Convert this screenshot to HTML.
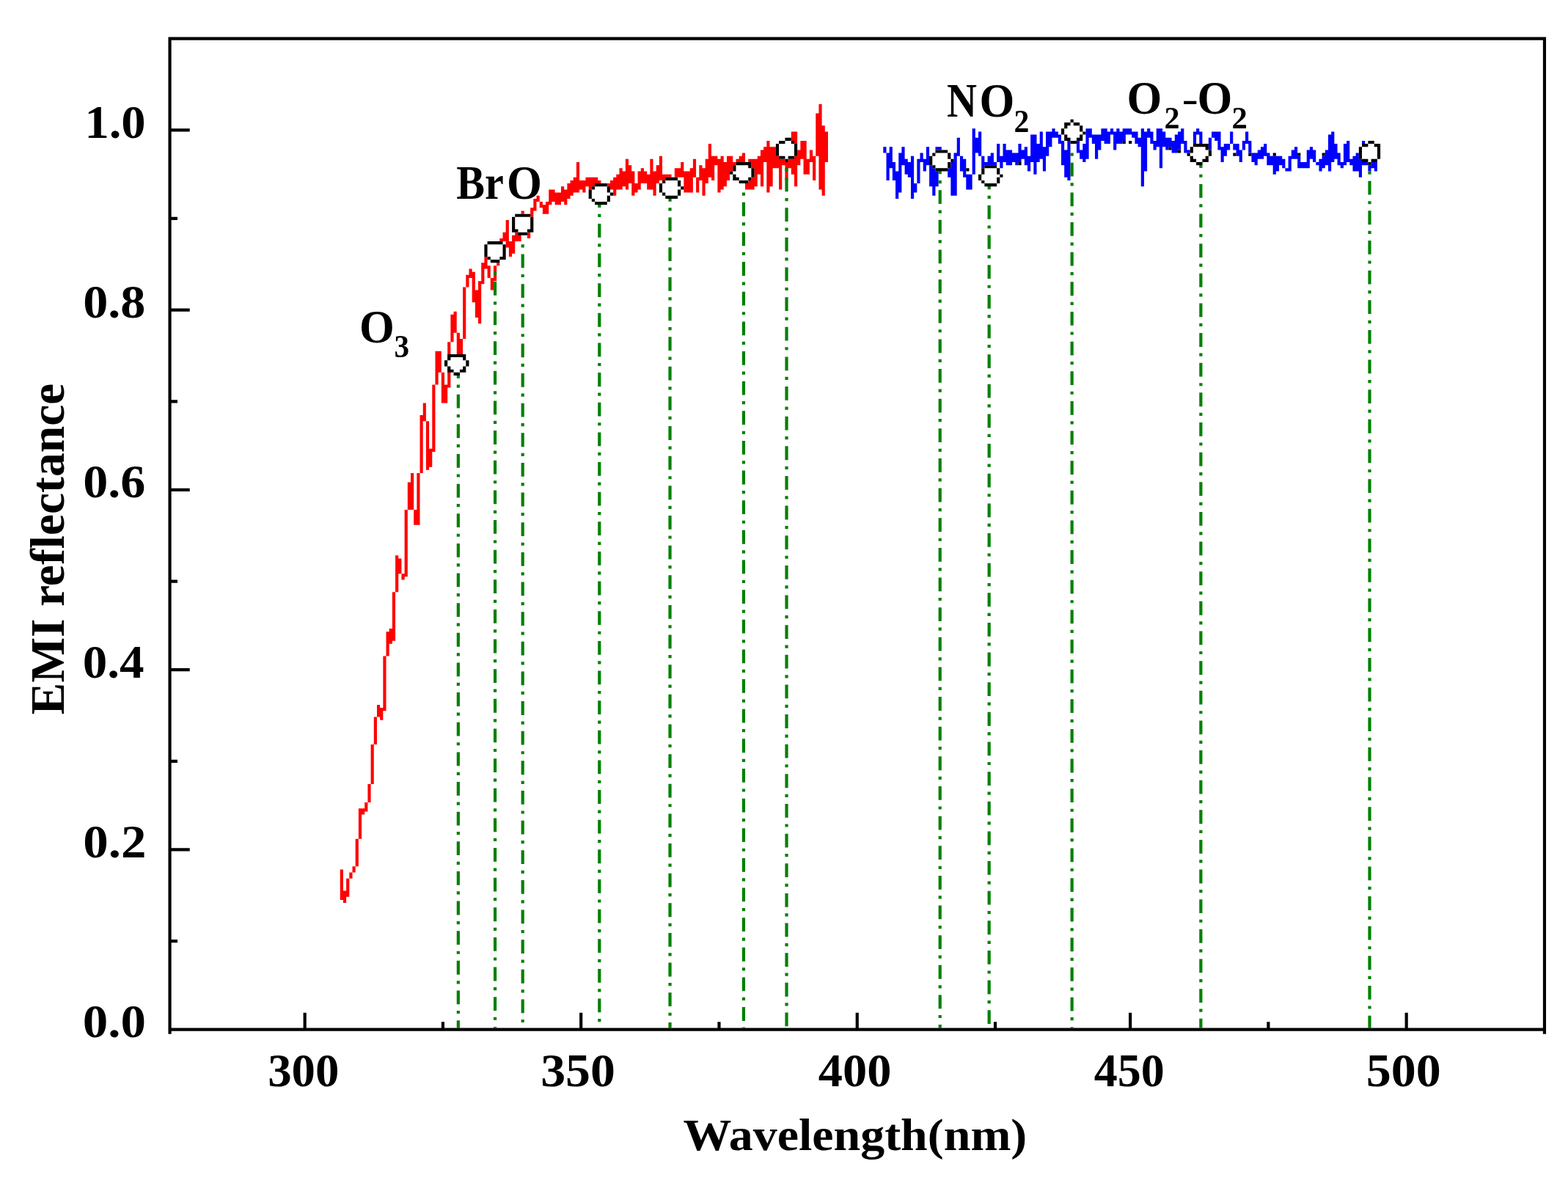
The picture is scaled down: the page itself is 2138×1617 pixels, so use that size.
<!DOCTYPE html>
<html lang="en">
<head>
<meta charset="utf-8">
<title>EMI reflectance vs wavelength</title>
<style>
html,body{margin:0;padding:0;background:#fff;}
body{width:2138px;height:1617px;overflow:hidden;}
svg{display:block;}
</style>
</head>
<body>
<svg width="2138" height="1617" viewBox="0 0 2138 1617" shape-rendering="auto">
<rect width="2138" height="1617" fill="#fff"/>
<path d="M463.75 1185.40h4.18v41.57h-4.18zM467.94 1214.49h4.18v16.63h-4.18zM472.12 1197.87h4.18v24.94h-4.18zM476.31 1189.55h4.18v8.31h-4.18zM480.49 1181.24h4.18v8.31h-4.18zM484.67 1143.83h4.18v37.41h-4.18zM488.86 1102.26h4.18v41.57h-4.18zM493.04 1102.26h4.18v8.31h-4.18zM497.23 1093.95h4.18v12.47h-4.18zM501.41 1069.01h4.18v24.94h-4.18zM505.59 1014.97h4.18v54.04h-4.18zM509.78 977.56h4.18v37.41h-4.18zM513.96 960.93h4.18v16.63h-4.18zM518.15 965.09h4.18v16.63h-4.18zM522.33 894.42h4.18v4.16h-4.18zM522.33 894.42h4.18v74.82h-4.18zM526.51 861.17h4.18v33.25h-4.18zM526.51 881.95h4.18v12.47h-4.18zM530.70 857.01h4.18v20.78h-4.18zM534.88 807.13h4.18v66.51h-4.18zM539.07 757.25h4.18v49.88h-4.18zM543.25 761.40h4.18v20.78h-4.18zM547.43 782.19h4.18v8.31h-4.18zM551.62 694.89h4.18v91.45h-4.18zM555.80 657.48h4.18v37.41h-4.18zM559.99 645.01h4.18v49.88h-4.18zM564.17 694.89h4.18v20.78h-4.18zM568.35 645.01h4.18v70.67h-4.18zM572.54 566.03h4.18v78.98h-4.18zM576.72 549.41h4.18v24.94h-4.18zM580.91 574.35h4.18v66.51h-4.18zM585.09 611.76h4.18v24.94h-4.18zM589.27 524.47h4.18v54.04h-4.18zM589.27 524.47h4.18v91.45h-4.18zM593.46 478.74h4.18v45.72h-4.18zM593.46 520.31h4.18v4.16h-4.18zM597.64 478.74h4.18v29.10h-4.18zM601.83 507.84h4.18v41.57h-4.18zM601.83 520.31h4.18v29.10h-4.18zM606.01 524.47h4.18v24.94h-4.18zM610.19 466.27h4.18v62.35h-4.18zM610.19 520.31h4.18v8.31h-4.18zM614.38 428.86h4.18v37.41h-4.18zM618.56 424.70h4.18v29.10h-4.18zM622.75 453.80h4.18v29.10h-4.18zM626.93 462.11h4.18v20.78h-4.18zM631.11 391.45h4.18v70.67h-4.18zM635.30 374.82h4.18v16.63h-4.18zM639.48 366.51h4.18v12.47h-4.18zM643.67 370.66h4.18v41.57h-4.18zM647.85 395.60h4.18v37.41h-4.18zM652.03 383.13h4.18v58.20h-4.18zM656.22 358.19h4.18v29.10h-4.18zM660.40 349.88h4.18v16.63h-4.18zM664.59 362.35h4.18v16.63h-4.18zM668.77 378.98h4.18v16.63h-4.18zM672.95 362.35h4.18v20.78h-4.18zM677.14 358.19h4.18v4.16h-4.18zM681.32 324.94h4.18v4.16h-4.18zM685.51 316.63h4.18v12.47h-4.18zM689.69 300.00h4.18v37.41h-4.18zM693.87 329.10h4.18v20.78h-4.18zM698.06 320.78h4.18v24.94h-4.18zM702.24 316.63h4.18v12.47h-4.18zM706.43 316.63h4.18v12.47h-4.18zM710.61 287.53h4.18v4.16h-4.18zM718.98 316.63h4.18v8.31h-4.18zM723.16 283.37h4.18v12.47h-4.18zM727.35 270.90h4.18v16.63h-4.18zM731.53 266.74h4.18v8.31h-4.18zM735.71 275.06h4.18v8.31h-4.18zM739.90 279.21h4.18v12.47h-4.18zM744.08 275.06h4.18v16.63h-4.18zM748.27 258.43h4.18v20.78h-4.18zM752.45 258.43h4.18v16.63h-4.18zM756.63 262.59h4.18v16.63h-4.18zM760.82 262.59h4.18v16.63h-4.18zM765.00 254.27h4.18v20.78h-4.18zM769.19 258.43h4.18v20.78h-4.18zM773.37 250.12h4.18v20.78h-4.18zM777.55 245.96h4.18v20.78h-4.18zM781.74 241.80h4.18v20.78h-4.18zM785.92 221.02h4.18v41.57h-4.18zM790.11 245.96h4.18v12.47h-4.18zM794.29 245.96h4.18v16.63h-4.18zM798.47 241.80h4.18v12.47h-4.18zM802.66 241.80h4.18v16.63h-4.18zM806.84 241.80h4.18v12.47h-4.18zM811.03 241.80h4.18v8.31h-4.18zM815.21 245.96h4.18v4.16h-4.18zM827.76 250.12h4.18v4.16h-4.18zM831.95 245.96h4.18v12.47h-4.18zM836.13 241.80h4.18v24.94h-4.18zM840.31 237.65h4.18v20.78h-4.18zM844.50 229.33h4.18v29.10h-4.18zM848.68 233.49h4.18v20.78h-4.18zM852.87 216.86h4.18v41.57h-4.18zM857.05 225.18h4.18v24.94h-4.18zM861.23 233.49h4.18v33.25h-4.18zM865.42 250.12h4.18v12.47h-4.18zM869.60 233.49h4.18v24.94h-4.18zM873.79 229.33h4.18v20.78h-4.18zM877.97 233.49h4.18v16.63h-4.18zM882.15 237.65h4.18v20.78h-4.18zM886.34 216.86h4.18v41.57h-4.18zM890.52 233.49h4.18v33.25h-4.18zM894.71 225.18h4.18v24.94h-4.18zM898.89 212.71h4.18v33.25h-4.18zM903.07 237.65h4.18v8.31h-4.18zM907.26 237.65h4.18v4.16h-4.18zM911.44 237.65h4.18v4.16h-4.18zM919.81 229.33h4.18v12.47h-4.18zM923.99 229.33h4.18v12.47h-4.18zM928.18 221.02h4.18v20.78h-4.18zM932.36 233.49h4.18v29.10h-4.18zM936.55 233.49h4.18v29.10h-4.18zM940.73 229.33h4.18v33.25h-4.18zM944.91 216.86h4.18v24.94h-4.18zM949.10 241.80h4.18v20.78h-4.18zM953.28 225.18h4.18v20.78h-4.18zM957.47 229.33h4.18v37.41h-4.18zM961.65 216.86h4.18v33.25h-4.18zM965.83 196.08h4.18v45.72h-4.18zM970.02 212.71h4.18v33.25h-4.18zM974.20 212.71h4.18v12.47h-4.18zM978.39 216.86h4.18v45.72h-4.18zM982.57 212.71h4.18v45.72h-4.18zM986.75 221.02h4.18v33.25h-4.18zM990.94 212.71h4.18v33.25h-4.18zM995.12 212.71h4.18v20.78h-4.18zM999.31 221.02h4.18v4.16h-4.18zM1003.49 216.86h4.18v4.16h-4.18zM1007.67 212.71h4.18v8.31h-4.18zM1011.86 208.55h4.18v12.47h-4.18zM1016.04 250.12h4.18v8.31h-4.18zM1020.23 216.86h4.18v4.16h-4.18zM1020.23 245.96h4.18v12.47h-4.18zM1024.41 216.86h4.18v12.47h-4.18zM1024.41 241.80h4.18v16.63h-4.18zM1028.59 216.86h4.18v37.41h-4.18zM1032.78 212.71h4.18v24.94h-4.18zM1036.96 204.39h4.18v49.88h-4.18zM1041.15 200.23h4.18v20.78h-4.18zM1045.33 191.92h4.18v70.67h-4.18zM1049.51 200.23h4.18v54.04h-4.18zM1053.70 200.23h4.18v29.10h-4.18zM1057.88 212.71h4.18v16.63h-4.18zM1062.07 216.86h4.18v41.57h-4.18zM1066.25 216.86h4.18v8.31h-4.18zM1070.43 221.02h4.18v24.94h-4.18zM1074.62 216.86h4.18v12.47h-4.18zM1078.80 179.45h4.18v12.47h-4.18zM1078.80 216.86h4.18v20.78h-4.18zM1082.99 179.45h4.18v16.63h-4.18zM1082.99 212.71h4.18v41.57h-4.18zM1087.17 204.39h4.18v20.78h-4.18zM1091.35 191.92h4.18v24.94h-4.18zM1095.54 191.92h4.18v45.72h-4.18zM1099.72 216.86h4.18v20.78h-4.18zM1103.91 204.39h4.18v16.63h-4.18zM1108.09 212.71h4.18v33.25h-4.18zM1112.27 154.51h4.18v58.20h-4.18zM1116.46 142.04h4.18v116.39h-4.18zM1120.64 171.14h4.18v95.61h-4.18zM1124.83 179.45h4.18v41.57h-4.18z" fill="#ff0000"/>
<path d="M1204.32 200.23h4.18v8.31h-4.18zM1208.51 208.55h4.18v37.41h-4.18zM1212.69 200.23h4.18v29.10h-4.18zM1216.87 221.02h4.18v24.94h-4.18zM1221.06 233.49h4.18v37.41h-4.18zM1225.24 208.55h4.18v54.04h-4.18zM1229.43 200.23h4.18v24.94h-4.18zM1233.61 216.86h4.18v20.78h-4.18zM1237.79 221.02h4.18v20.78h-4.18zM1241.98 212.71h4.18v58.20h-4.18zM1246.16 250.12h4.18v12.47h-4.18zM1250.35 216.86h4.18v33.25h-4.18zM1254.53 208.55h4.18v12.47h-4.18zM1258.71 216.86h4.18v16.63h-4.18zM1262.90 200.23h4.18v24.94h-4.18zM1267.08 225.18h4.18v29.10h-4.18zM1271.27 229.33h4.18v37.41h-4.18zM1275.45 200.23h4.18v4.16h-4.18zM1275.45 233.49h4.18v20.78h-4.18zM1279.63 200.23h4.18v4.16h-4.18zM1292.19 229.33h4.18v12.47h-4.18zM1296.37 221.02h4.18v45.72h-4.18zM1300.55 208.55h4.18v58.20h-4.18zM1304.74 187.76h4.18v24.94h-4.18zM1308.92 212.71h4.18v20.78h-4.18zM1313.11 216.86h4.18v24.94h-4.18zM1317.29 237.65h4.18v20.78h-4.18zM1321.47 237.65h4.18v20.78h-4.18zM1325.66 175.29h4.18v62.35h-4.18zM1329.84 187.76h4.18v20.78h-4.18zM1334.03 179.45h4.18v33.25h-4.18zM1338.21 212.71h4.18v16.63h-4.18zM1342.39 221.02h4.18v4.16h-4.18zM1346.58 212.71h4.18v12.47h-4.18zM1350.76 208.55h4.18v16.63h-4.18zM1354.95 221.02h4.18v4.16h-4.18zM1359.13 196.08h4.18v24.94h-4.18zM1363.31 212.71h4.18v16.63h-4.18zM1367.50 196.08h4.18v24.94h-4.18zM1371.68 204.39h4.18v20.78h-4.18zM1375.87 204.39h4.18v20.78h-4.18zM1380.05 208.55h4.18v12.47h-4.18zM1384.23 208.55h4.18v16.63h-4.18zM1388.42 196.08h4.18v24.94h-4.18zM1392.60 204.39h4.18v12.47h-4.18zM1396.79 200.23h4.18v24.94h-4.18zM1400.97 212.71h4.18v20.78h-4.18zM1405.15 183.61h4.18v37.41h-4.18zM1409.34 183.61h4.18v54.04h-4.18zM1413.52 196.08h4.18v24.94h-4.18zM1417.71 179.45h4.18v37.41h-4.18zM1421.89 200.23h4.18v33.25h-4.18zM1426.07 179.45h4.18v33.25h-4.18zM1430.26 179.45h4.18v20.78h-4.18zM1434.44 175.29h4.18v12.47h-4.18zM1438.63 179.45h4.18v8.31h-4.18zM1442.81 183.61h4.18v12.47h-4.18zM1446.99 191.92h4.18v33.25h-4.18zM1451.18 204.39h4.18v37.41h-4.18zM1455.36 191.92h4.18v54.04h-4.18zM1467.91 191.92h4.18v16.63h-4.18zM1472.10 204.39h4.18v12.47h-4.18zM1476.28 196.08h4.18v24.94h-4.18zM1480.47 175.29h4.18v41.57h-4.18zM1484.65 175.29h4.18v12.47h-4.18zM1488.83 183.61h4.18v12.47h-4.18zM1493.02 183.61h4.18v33.25h-4.18zM1497.20 183.61h4.18v20.78h-4.18zM1501.39 175.29h4.18v16.63h-4.18zM1505.57 175.29h4.18v20.78h-4.18zM1509.75 179.45h4.18v16.63h-4.18zM1513.94 175.29h4.18v8.31h-4.18zM1518.12 179.45h4.18v24.94h-4.18zM1522.31 175.29h4.18v20.78h-4.18zM1526.49 179.45h4.18v16.63h-4.18zM1530.67 175.29h4.18v16.63h-4.18zM1534.86 175.29h4.18v8.31h-4.18zM1539.04 175.29h4.18v8.31h-4.18zM1543.23 179.45h4.18v8.31h-4.18zM1547.41 179.45h4.18v16.63h-4.18zM1551.59 187.76h4.18v12.47h-4.18zM1555.78 175.29h4.18v78.98h-4.18zM1559.96 179.45h4.18v54.04h-4.18zM1564.15 175.29h4.18v12.47h-4.18zM1568.33 179.45h4.18v16.63h-4.18zM1572.51 191.92h4.18v12.47h-4.18zM1576.70 175.29h4.18v24.94h-4.18zM1580.88 175.29h4.18v54.04h-4.18zM1585.07 179.45h4.18v20.78h-4.18zM1589.25 187.76h4.18v16.63h-4.18zM1593.43 187.76h4.18v12.47h-4.18zM1597.62 191.92h4.18v16.63h-4.18zM1601.80 183.61h4.18v24.94h-4.18zM1605.99 179.45h4.18v24.94h-4.18zM1610.17 175.29h4.18v20.78h-4.18zM1614.35 191.92h4.18v16.63h-4.18zM1618.54 204.39h4.18v4.16h-4.18zM1626.91 179.45h4.18v16.63h-4.18zM1631.09 175.29h4.18v8.31h-4.18zM1635.27 179.45h4.18v16.63h-4.18zM1647.83 187.76h4.18v16.63h-4.18zM1652.01 179.45h4.18v8.31h-4.18zM1656.19 179.45h4.18v12.47h-4.18zM1660.38 179.45h4.18v24.94h-4.18zM1664.56 200.23h4.18v20.78h-4.18zM1668.75 196.08h4.18v16.63h-4.18zM1672.93 196.08h4.18v8.31h-4.18zM1677.11 179.45h4.18v16.63h-4.18zM1681.30 196.08h4.18v8.31h-4.18zM1685.48 196.08h4.18v16.63h-4.18zM1689.67 204.39h4.18v16.63h-4.18zM1693.85 191.92h4.18v12.47h-4.18zM1698.03 179.45h4.18v16.63h-4.18zM1702.22 191.92h4.18v16.63h-4.18zM1706.40 208.55h4.18v12.47h-4.18zM1710.59 208.55h4.18v16.63h-4.18zM1714.77 204.39h4.18v12.47h-4.18zM1718.95 200.23h4.18v16.63h-4.18zM1723.14 196.08h4.18v16.63h-4.18zM1727.32 208.55h4.18v16.63h-4.18zM1731.51 212.71h4.18v12.47h-4.18zM1735.69 212.71h4.18v24.94h-4.18zM1739.87 212.71h4.18v20.78h-4.18zM1744.06 212.71h4.18v12.47h-4.18zM1748.24 216.86h4.18v12.47h-4.18zM1752.43 229.33h4.18v4.16h-4.18zM1756.61 212.71h4.18v20.78h-4.18zM1760.79 204.39h4.18v12.47h-4.18zM1764.98 200.23h4.18v16.63h-4.18zM1769.16 212.71h4.18v16.63h-4.18zM1773.35 221.02h4.18v8.31h-4.18zM1777.53 221.02h4.18v8.31h-4.18zM1781.71 204.39h4.18v24.94h-4.18zM1785.90 200.23h4.18v16.63h-4.18zM1790.08 204.39h4.18v16.63h-4.18zM1794.27 221.02h4.18v4.16h-4.18zM1798.45 216.86h4.18v16.63h-4.18zM1802.63 212.71h4.18v16.63h-4.18zM1806.82 204.39h4.18v20.78h-4.18zM1811.00 183.61h4.18v49.88h-4.18zM1815.19 179.45h4.18v41.57h-4.18zM1819.37 196.08h4.18v20.78h-4.18zM1823.55 208.55h4.18v16.63h-4.18zM1827.74 221.02h4.18v8.31h-4.18zM1831.92 196.08h4.18v29.10h-4.18zM1836.11 191.92h4.18v29.10h-4.18zM1840.29 216.86h4.18v8.31h-4.18zM1844.47 212.71h4.18v20.78h-4.18zM1848.66 208.55h4.18v24.94h-4.18zM1852.84 216.86h4.18v24.94h-4.18zM1857.03 191.92h4.18v4.16h-4.18zM1857.03 221.02h4.18v4.16h-4.18zM1861.21 221.02h4.18v4.16h-4.18zM1865.39 225.18h4.18v8.31h-4.18zM1869.58 221.02h4.18v8.31h-4.18zM1873.76 221.02h4.18v12.47h-4.18z" fill="#0000ff"/>
<g stroke="#008000" stroke-width="4.2" stroke-dasharray="18.8 8.6 4.2 9.04" fill="none"><line x1="624.84" y1="497.07" x2="624.84" y2="1401.55"/><line x1="675.05" y1="362.06" x2="675.05" y2="1401.55" stroke-dashoffset="18.8"/><line x1="712.70" y1="324.65" x2="712.70" y2="1401.55" stroke-dashoffset="18.8"/><line x1="817.30" y1="264.28" x2="817.30" y2="1401.55"/><line x1="913.53" y1="255.97" x2="913.53" y2="1401.55"/><line x1="1013.95" y1="253.99" x2="1013.95" y2="1401.55" stroke-dashoffset="18.8"/><line x1="1072.53" y1="220.73" x2="1072.53" y2="1401.55" stroke-dashoffset="18.8"/><line x1="1281.73" y1="218.56" x2="1281.73" y2="1401.55"/><line x1="1348.67" y1="239.34" x2="1348.67" y2="1401.55"/><line x1="1461.64" y1="199.95" x2="1461.64" y2="1401.55" stroke-dashoffset="18.8"/><line x1="1637.37" y1="210.25" x2="1637.37" y2="1401.55"/><line x1="1867.49" y1="224.89" x2="1867.49" y2="1401.55" stroke-dashoffset="18.8"/></g>
<path d="M1317.29 229.33h4.18v4.16h-4.18zM1388.42 221.02h4.18v4.16h-4.18zM1530.67 191.92h4.18v4.16h-4.18zM1539.04 191.92h4.18v4.16h-4.18zM1593.43 200.23h4.18v4.16h-4.18zM1605.99 204.39h4.18v4.16h-4.18zM1681.30 208.55h4.18v4.16h-4.18zM1702.22 208.55h4.18v4.16h-4.18zM1735.69 208.55h4.18v4.16h-4.18zM1769.16 208.55h4.18v4.16h-4.18zM1802.63 208.55h4.18v4.16h-4.18z" fill="#000"/>
<path d="M613.88 486.55h17.74v5.16h-17.74zM609.69 490.71h26.10v5.16h-26.10zM609.69 494.87h26.10v5.16h-26.10zM613.88 499.02h17.74v5.16h-17.74zM618.06 503.18h9.37v5.16h-9.37zM664.09 332.75h21.92v5.16h-21.92zM664.09 336.91h21.92v5.16h-21.92zM664.09 341.07h21.92v5.16h-21.92zM664.09 345.22h21.92v5.16h-21.92zM668.27 349.38h13.55v5.16h-13.55zM701.74 295.34h21.92v5.16h-21.92zM701.74 299.50h21.92v5.16h-21.92zM701.74 303.65h21.92v5.16h-21.92zM701.74 307.81h21.92v5.16h-21.92zM705.93 311.97h13.55v5.16h-13.55zM810.53 253.77h17.74v5.16h-17.74zM806.34 257.93h21.92v5.16h-21.92zM806.34 262.09h26.10v5.16h-26.10zM806.34 266.24h21.92v5.16h-21.92zM810.53 270.40h17.74v5.16h-17.74zM906.76 245.46h17.74v5.16h-17.74zM902.57 249.62h21.92v5.16h-21.92zM902.57 253.77h26.10v5.16h-26.10zM902.57 257.93h21.92v5.16h-21.92zM906.76 262.09h17.74v5.16h-17.74zM1002.99 224.68h17.74v5.16h-17.74zM1002.99 228.83h21.92v5.16h-21.92zM998.81 232.99h26.10v5.16h-26.10zM1002.99 237.15h21.92v5.16h-21.92zM1007.17 241.30h13.55v5.16h-13.55zM1069.93 191.42h9.37v5.16h-9.37zM1061.57 195.58h21.92v5.16h-21.92zM1061.57 199.73h21.92v5.16h-21.92zM1061.57 203.89h21.92v5.16h-21.92zM1061.57 208.05h21.92v5.16h-21.92zM1069.93 212.21h5.18v5.16h-5.18zM1274.95 208.05h17.74v5.16h-17.74zM1270.77 212.21h21.92v5.16h-21.92zM1270.77 216.36h26.10v5.16h-26.10zM1270.77 220.52h21.92v5.16h-21.92zM1274.95 224.68h17.74v5.16h-17.74zM1341.89 228.83h17.74v5.16h-17.74zM1341.89 232.99h17.74v5.16h-17.74zM1337.71 237.15h26.10v5.16h-26.10zM1337.71 241.30h21.92v5.16h-21.92zM1341.89 245.46h17.74v5.16h-17.74zM1459.05 166.48h5.18v5.16h-5.18zM1454.86 170.64h17.74v5.16h-17.74zM1450.68 174.79h21.92v5.16h-21.92zM1450.68 178.95h26.10v5.16h-26.10zM1454.86 183.11h17.74v5.16h-17.74zM1459.05 187.26h9.37v5.16h-9.37zM1626.41 199.73h17.74v5.16h-17.74zM1626.41 203.89h21.92v5.16h-21.92zM1622.22 208.05h26.10v5.16h-26.10zM1626.41 212.21h17.74v5.16h-17.74zM1630.59 216.36h9.37v5.16h-9.37zM1864.89 195.58h9.37v5.16h-9.37zM1856.53 199.73h21.92v5.16h-21.92zM1856.53 203.89h21.92v5.16h-21.92zM1856.53 208.05h21.92v5.16h-21.92zM1856.53 212.21h21.92v5.16h-21.92zM1864.89 216.36h5.18v5.16h-5.18z" fill="#fff"/>
<path d="M610.19 482.90h25.10v4.16h-25.10zM610.19 487.05h4.18v4.16h-4.18zM631.11 487.05h4.18v4.16h-4.18zM606.01 491.21h4.18v4.16h-4.18zM635.30 491.21h4.18v4.16h-4.18zM606.01 495.37h4.18v4.16h-4.18zM635.30 495.37h4.18v4.16h-4.18zM610.19 499.52h4.18v4.16h-4.18zM631.11 499.52h4.18v4.16h-4.18zM610.19 503.68h8.37v4.16h-8.37zM626.93 503.68h8.37v4.16h-8.37zM618.56 507.84h8.37v4.16h-8.37zM664.59 329.10h20.92v4.16h-20.92zM660.40 333.25h4.18v4.16h-4.18zM685.51 333.25h4.18v4.16h-4.18zM660.40 337.41h4.18v4.16h-4.18zM685.51 337.41h4.18v4.16h-4.18zM660.40 341.57h4.18v4.16h-4.18zM685.51 341.57h4.18v4.16h-4.18zM660.40 345.72h4.18v4.16h-4.18zM685.51 345.72h4.18v4.16h-4.18zM664.59 349.88h4.18v4.16h-4.18zM681.32 349.88h8.37v4.16h-8.37zM668.77 354.04h12.55v4.16h-12.55zM702.24 291.68h20.92v4.16h-20.92zM698.06 295.84h4.18v4.16h-4.18zM723.16 295.84h4.18v4.16h-4.18zM698.06 300.00h4.18v4.16h-4.18zM723.16 300.00h4.18v4.16h-4.18zM698.06 304.15h4.18v4.16h-4.18zM723.16 304.15h4.18v4.16h-4.18zM698.06 308.31h4.18v4.16h-4.18zM723.16 308.31h4.18v4.16h-4.18zM698.06 312.47h8.37v4.16h-8.37zM718.98 312.47h8.37v4.16h-8.37zM706.43 316.63h12.55v4.16h-12.55zM811.03 250.12h16.74v4.16h-16.74zM806.84 254.27h4.18v4.16h-4.18zM827.76 254.27h4.18v4.16h-4.18zM802.66 258.43h4.18v4.16h-4.18zM827.76 258.43h4.18v4.16h-4.18zM802.66 262.59h4.18v4.16h-4.18zM831.95 262.59h4.18v4.16h-4.18zM802.66 266.74h4.18v4.16h-4.18zM827.76 266.74h4.18v4.16h-4.18zM806.84 270.90h4.18v4.16h-4.18zM827.76 270.90h4.18v4.16h-4.18zM811.03 275.06h16.74v4.16h-16.74zM907.26 241.80h16.74v4.16h-16.74zM903.07 245.96h4.18v4.16h-4.18zM923.99 245.96h4.18v4.16h-4.18zM898.89 250.12h4.18v4.16h-4.18zM923.99 250.12h4.18v4.16h-4.18zM898.89 254.27h4.18v4.16h-4.18zM928.18 254.27h4.18v4.16h-4.18zM898.89 258.43h4.18v4.16h-4.18zM923.99 258.43h4.18v4.16h-4.18zM903.07 262.59h4.18v4.16h-4.18zM923.99 262.59h4.18v4.16h-4.18zM907.26 266.74h16.74v4.16h-16.74zM1003.49 221.02h20.92v4.16h-20.92zM999.31 225.18h4.18v4.16h-4.18zM1020.23 225.18h4.18v4.16h-4.18zM999.31 229.33h4.18v4.16h-4.18zM1024.41 229.33h4.18v4.16h-4.18zM995.12 233.49h4.18v4.16h-4.18zM1024.41 233.49h4.18v4.16h-4.18zM999.31 237.65h4.18v4.16h-4.18zM1024.41 237.65h4.18v4.16h-4.18zM999.31 241.80h8.37v4.16h-8.37zM1020.23 241.80h4.18v4.16h-4.18zM1007.67 245.96h12.55v4.16h-12.55zM1070.43 187.76h8.37v4.16h-8.37zM1062.07 191.92h8.37v4.16h-8.37zM1078.80 191.92h4.18v4.16h-4.18zM1057.88 196.08h4.18v4.16h-4.18zM1082.99 196.08h4.18v4.16h-4.18zM1057.88 200.23h4.18v4.16h-4.18zM1082.99 200.23h4.18v4.16h-4.18zM1057.88 204.39h4.18v4.16h-4.18zM1082.99 204.39h4.18v4.16h-4.18zM1057.88 208.55h4.18v4.16h-4.18zM1082.99 208.55h4.18v4.16h-4.18zM1062.07 212.71h8.37v4.16h-8.37zM1074.62 212.71h8.37v4.16h-8.37zM1070.43 216.86h4.18v4.16h-4.18zM1275.45 204.39h16.74v4.16h-16.74zM1271.27 208.55h4.18v4.16h-4.18zM1292.19 208.55h4.18v4.16h-4.18zM1267.08 212.71h4.18v4.16h-4.18zM1292.19 212.71h4.18v4.16h-4.18zM1267.08 216.86h4.18v4.16h-4.18zM1296.37 216.86h4.18v4.16h-4.18zM1267.08 221.02h4.18v4.16h-4.18zM1292.19 221.02h4.18v4.16h-4.18zM1271.27 225.18h4.18v4.16h-4.18zM1292.19 225.18h4.18v4.16h-4.18zM1275.45 229.33h16.74v4.16h-16.74zM1342.39 225.18h16.74v4.16h-16.74zM1338.21 229.33h4.18v4.16h-4.18zM1359.13 229.33h4.18v4.16h-4.18zM1338.21 233.49h4.18v4.16h-4.18zM1359.13 233.49h4.18v4.16h-4.18zM1334.03 237.65h4.18v4.16h-4.18zM1363.31 237.65h4.18v4.16h-4.18zM1334.03 241.80h4.18v4.16h-4.18zM1359.13 241.80h4.18v4.16h-4.18zM1338.21 245.96h4.18v4.16h-4.18zM1359.13 245.96h4.18v4.16h-4.18zM1342.39 250.12h16.74v4.16h-16.74zM1459.55 162.82h4.18v4.16h-4.18zM1451.18 166.98h8.37v4.16h-8.37zM1463.73 166.98h8.37v4.16h-8.37zM1451.18 171.14h4.18v4.16h-4.18zM1472.10 171.14h4.18v4.16h-4.18zM1446.99 175.29h4.18v4.16h-4.18zM1472.10 175.29h4.18v4.16h-4.18zM1446.99 179.45h4.18v4.16h-4.18zM1476.28 179.45h4.18v4.16h-4.18zM1451.18 183.61h4.18v4.16h-4.18zM1472.10 183.61h4.18v4.16h-4.18zM1451.18 187.76h8.37v4.16h-8.37zM1467.91 187.76h8.37v4.16h-8.37zM1459.55 191.92h8.37v4.16h-8.37zM1626.91 196.08h20.92v4.16h-20.92zM1622.72 200.23h4.18v4.16h-4.18zM1643.64 200.23h4.18v4.16h-4.18zM1622.72 204.39h4.18v4.16h-4.18zM1647.83 204.39h4.18v4.16h-4.18zM1618.54 208.55h4.18v4.16h-4.18zM1647.83 208.55h4.18v4.16h-4.18zM1622.72 212.71h4.18v4.16h-4.18zM1643.64 212.71h4.18v4.16h-4.18zM1622.72 216.86h8.37v4.16h-8.37zM1639.46 216.86h8.37v4.16h-8.37zM1631.09 221.02h8.37v4.16h-8.37zM1865.39 191.92h8.37v4.16h-8.37zM1857.03 196.08h8.37v4.16h-8.37zM1873.76 196.08h8.37v4.16h-8.37zM1852.84 200.23h4.18v4.16h-4.18zM1877.95 200.23h4.18v4.16h-4.18zM1852.84 204.39h4.18v4.16h-4.18zM1877.95 204.39h4.18v4.16h-4.18zM1852.84 208.55h4.18v4.16h-4.18zM1877.95 208.55h4.18v4.16h-4.18zM1852.84 212.71h4.18v4.16h-4.18zM1877.95 212.71h4.18v4.16h-4.18zM1857.03 216.86h8.37v4.16h-8.37zM1869.58 216.86h8.37v4.16h-8.37zM1865.39 221.02h4.18v4.16h-4.18z" fill="#000"/>
<path d="M229.45 50.59h4.18v1359.27h-4.18zM2103.88 50.59h4.18v1359.27h-4.18zM229.45 50.59H2108.07v4.16H229.45zM229.45 1401.55H2108.07v4.16H229.45zM233.63 1401.55h25.10v4.16h-25.10zM233.63 1156.30h25.10v4.16h-25.10zM233.63 911.05h25.10v4.16h-25.10zM233.63 665.80h25.10v4.16h-25.10zM233.63 420.55h25.10v4.16h-25.10zM233.63 175.29h25.10v4.16h-25.10zM233.63 1281.00h8.37v4.16h-8.37zM233.63 1035.75h8.37v4.16h-8.37zM233.63 790.50h8.37v4.16h-8.37zM233.63 545.25h8.37v4.16h-8.37zM233.63 295.84h8.37v4.16h-8.37zM413.55 1380.77h4.18v20.78h-4.18zM790.11 1380.77h4.18v20.78h-4.18zM1166.67 1380.77h4.18v20.78h-4.18zM1539.04 1380.77h4.18v20.78h-4.18zM1915.60 1380.77h4.18v20.78h-4.18zM601.83 1393.24h4.18v8.31h-4.18zM978.39 1393.24h4.18v8.31h-4.18zM1354.95 1393.24h4.18v8.31h-4.18zM1727.32 1393.24h4.18v8.31h-4.18z" fill="#000"/>
<g font-family="'Liberation Serif', 'DejaVu Serif', serif" font-weight="bold" fill="#000"><text x="115.4" y="187.7" font-size="62.7" text-anchor="start" textLength="83.3" lengthAdjust="spacingAndGlyphs">1.0</text><text x="113.2" y="433.0" font-size="63.95" text-anchor="start" textLength="85.2" lengthAdjust="spacingAndGlyphs">0.8</text><text x="113.2" y="678.3" font-size="63.95" text-anchor="start" textLength="85.1" lengthAdjust="spacingAndGlyphs">0.6</text><text x="112.8" y="923.5" font-size="63.95" text-anchor="start" textLength="83.8" lengthAdjust="spacingAndGlyphs">0.4</text><text x="113.2" y="1168.8" font-size="63.95" text-anchor="start" textLength="86.2" lengthAdjust="spacingAndGlyphs">0.2</text><text x="112.7" y="1414.0" font-size="63.95" text-anchor="start" textLength="86.2" lengthAdjust="spacingAndGlyphs">0.0</text><text x="365.2" y="1481.0" font-size="62.7" text-anchor="start" textLength="97.2" lengthAdjust="spacingAndGlyphs">300</text><text x="737.2" y="1481.0" font-size="62.7" text-anchor="start" textLength="101.8" lengthAdjust="spacingAndGlyphs">350</text><text x="1115.7" y="1481.0" font-size="62.7" text-anchor="start" textLength="99.8" lengthAdjust="spacingAndGlyphs">400</text><text x="1491.8" y="1481.0" font-size="62.7" text-anchor="start" textLength="96.1" lengthAdjust="spacingAndGlyphs">450</text><text x="1862.8" y="1481.0" font-size="62.7" text-anchor="start" textLength="102.1" lengthAdjust="spacingAndGlyphs">500</text><text x="931.4" y="1568.4" font-size="62" text-anchor="start" textLength="468.9" lengthAdjust="spacingAndGlyphs">Wavelength(nm)</text><text x="0.0" y="0.0" font-size="64.5" text-anchor="start" textLength="451.8" lengthAdjust="spacingAndGlyphs" transform="translate(87.2 974.5) rotate(-90)">EMI reflectance</text><text><tspan x="490.0" y="466.6" font-size="63.04" textLength="47.8" lengthAdjust="spacingAndGlyphs">O</tspan><tspan x="537.4" y="487.2" font-size="44.03" textLength="20.6" lengthAdjust="spacingAndGlyphs">3</tspan></text><text><tspan x="622.2" y="271.1" font-size="64.88" textLength="64.7" lengthAdjust="spacingAndGlyphs">Br</tspan><tspan x="691.0" y="271.1" font-size="64.88" textLength="48.0" lengthAdjust="spacingAndGlyphs">O</tspan></text><text><tspan x="1291.0" y="159.0" font-size="64.5" textLength="41.0" lengthAdjust="spacingAndGlyphs">N</tspan><tspan x="1335.4" y="159.0" font-size="64.5" textLength="47.8" lengthAdjust="spacingAndGlyphs">O</tspan><tspan x="1382.4" y="179.5" font-size="44.03" textLength="20.9" lengthAdjust="spacingAndGlyphs">2</tspan></text><text><tspan x="1536.4" y="154.8" font-size="63.04" textLength="47.8" lengthAdjust="spacingAndGlyphs">O</tspan><tspan x="1587.6" y="175.2" font-size="43.12" textLength="21.1" lengthAdjust="spacingAndGlyphs">2</tspan><tspan x="1611.8" y="153.1" font-size="56" textLength="22.0" lengthAdjust="spacingAndGlyphs" font-weight="normal">-</tspan><tspan x="1632.6" y="154.8" font-size="63.04" textLength="47.8" lengthAdjust="spacingAndGlyphs">O</tspan><tspan x="1679.6" y="175.2" font-size="43.12" textLength="21.4" lengthAdjust="spacingAndGlyphs">2</tspan></text></g>
</svg>
</body>
</html>
